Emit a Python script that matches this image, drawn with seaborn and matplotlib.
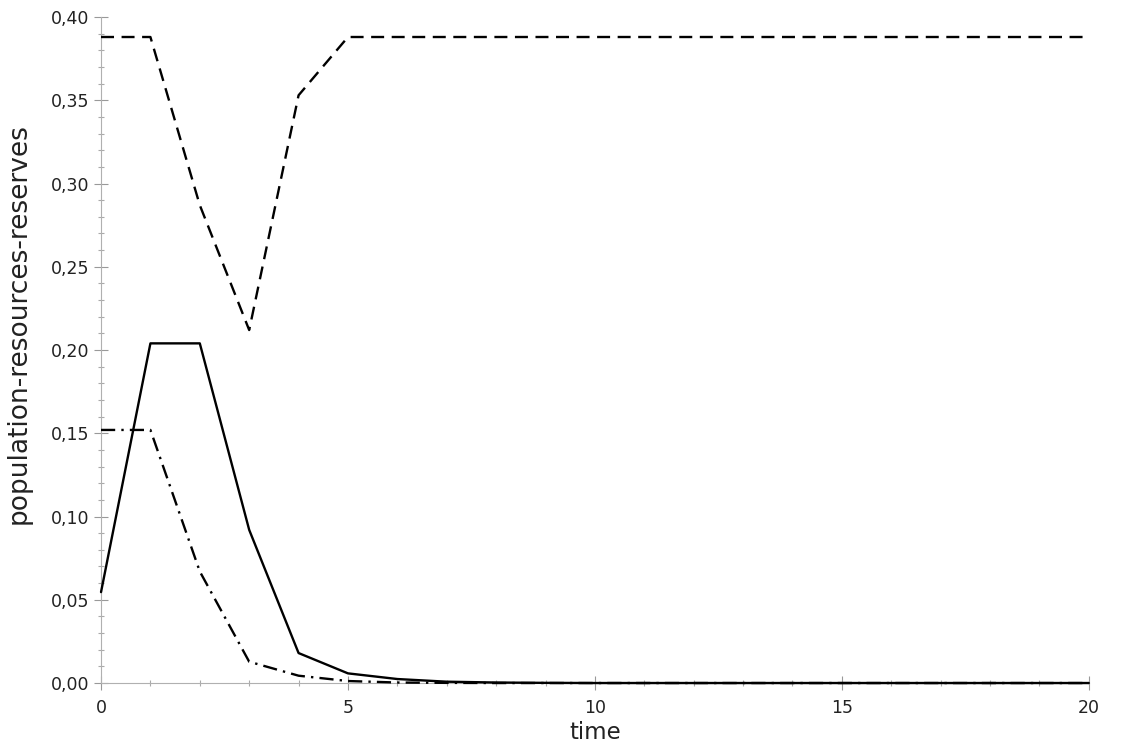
import pandas as pd
import numpy as np
import matplotlib
matplotlib.use("Agg")
import matplotlib.pyplot as plt
from matplotlib.ticker import MultipleLocator, FuncFormatter
import seaborn as sns

# values
time = list(range(0, 21))
population = [0.0546, 0.204, 0.204, 0.092, 0.018, 0.0058, 0.0024, 0.0008, 0.0003, 0.0001,
              0, 0, 0, 0, 0, 0, 0, 0, 0, 0, 0]
resources = [0.388, 0.388, 0.287, 0.212, 0.353, 0.388, 0.388, 0.388, 0.388, 0.388,
             0.388, 0.388, 0.388, 0.388, 0.388, 0.388, 0.388, 0.388, 0.388, 0.388, 0.388]
reserves = [0.152, 0.152, 0.067, 0.0128, 0.0044, 0.0012, 0.0003, 0.0001, 0, 0,
            0, 0, 0, 0, 0, 0, 0, 0, 0, 0, 0]

df = pd.DataFrame({"time": time, "population": population,
                   "resources": resources, "reserves": reserves})

sns.set_style("white")
plt.rcParams['font.family'] = ['DejaVu Sans']

fig = plt.figure(figsize=(11.25, 7.5), dpi=100)
ax = fig.add_axes([0.0898, 0.0893, 0.878, 0.888])

sns.lineplot(x="time", y="resources", data=df, ax=ax, color="black",
             linewidth=1.7, linestyle=(0, (5.5, 3.2)))
sns.lineplot(x="time", y="population", data=df, ax=ax, color="black",
             linewidth=1.7, linestyle="-")
sns.lineplot(x="time", y="reserves", data=df, ax=ax, color="black",
             linewidth=1.7, linestyle=(0, (6, 2.6, 1, 2.6)))
for line in ax.lines:
    line.set_clip_on(False)
    line.set_zorder(5)

ax.set_xlim(0, 20)
ax.set_ylim(0, 0.40)
ax.xaxis.set_major_locator(MultipleLocator(5))
ax.xaxis.set_minor_locator(MultipleLocator(1))
ax.yaxis.set_major_locator(MultipleLocator(0.05))
ax.yaxis.set_minor_locator(MultipleLocator(0.01))
ax.yaxis.set_major_formatter(FuncFormatter(lambda v, p: f"{v:.2f}".replace(".", ",")))

for s in ["top", "right"]:
    ax.spines[s].set_visible(False)
for s in ["left", "bottom"]:
    ax.spines[s].set_color("#b0b0b0")
    ax.spines[s].set_linewidth(0.8)

ax.tick_params(which="major", direction="inout", length=9.5, width=0.8, color="#999999",
               labelsize=12.5, labelcolor="#222222")
ax.tick_params(axis="y", which="major", pad=3.5)
ax.tick_params(axis="x", which="major", pad=7)
ax.tick_params(which="minor", direction="inout", length=5, width=0.8, color="#aaaaaa")
ax.tick_params(axis="both", which="both", left=True, bottom=True)

ax.set_xlabel("time", fontsize=16.5, color="#222222", va="center")
ax.set_ylabel("population-resources-reserves", fontsize=19, color="#222222", va="center")
ax.xaxis.set_label_coords(0.5, -0.074)
ax.yaxis.set_label_coords(-0.083, 0.54)

fig.savefig("out.png", dpi=100)
